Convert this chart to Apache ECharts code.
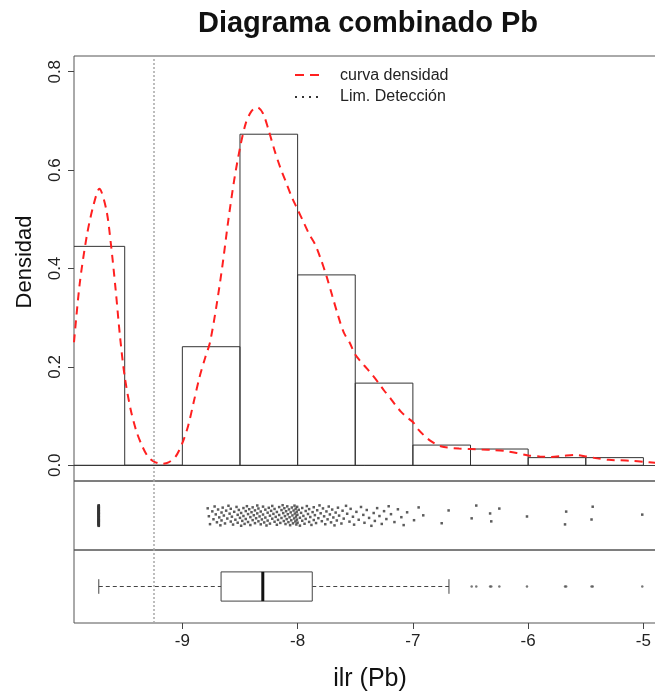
<!DOCTYPE html>
<html><head><meta charset="utf-8">
<script src="https://cdn.jsdelivr.net/npm/echarts@6/dist/echarts.min.js"></script>
<style>html,body{margin:0;padding:0;background:#fff}#c{width:655px;height:694px}</style>
</head><body><div id="c"></div>
<script>
// ---------- data ----------
const titleText = 'Diagrama combinado Pb';
const xName = 'ilr (Pb)';
const yName = 'Densidad';
const legendLabels = ['curva densidad', 'Lim. Detección'];
const xTicks = [-9, -8, -7, -6, -5];
const yTicks = [0, 0.2, 0.4, 0.6, 0.8];

// histogram (bin edges and densities)
const binEdges = [-10, -9.5, -9, -8.5, -8, -7.5, -7, -6.5, -6, -5.5, -5];
const binDensity = [0.445, 0, 0.241, 0.673, 0.387, 0.167, 0.041, 0.033, 0.0155, 0.0155];

// kernel density curve
const kdeX = [-9.94,-9.89,-9.83,-9.775,-9.72,-9.66,-9.62,-9.58,-9.54,-9.50,-9.45,-9.40,-9.35,-9.30,-9.25,-9.18,-9.12,-9.06,-9.00,-8.95,-8.90,-8.85,-8.80,-8.76,-8.70,-8.65,-8.60,-8.55,-8.50,-8.45,-8.40,-8.35,-8.30,-8.25,-8.20,-8.15,-8.10,-8.05,-8.00,-7.95,-7.90,-7.85,-7.80,-7.75,-7.70,-7.65,-7.60,-7.55,-7.50,-7.45,-7.40,-7.35,-7.30,-7.25,-7.20,-7.15,-7.10,-7.05,-7.00,-6.95,-6.90,-6.85,-6.80,-6.75,-6.70,-6.60,-6.50,-6.40,-6.30,-6.20,-6.10,-6.00,-5.90,-5.80,-5.70,-5.60,-5.50,-5.40,-5.30,-5.20,-5.10,-5.00,-4.90,-4.83];
const kdeY = [0.25,0.37,0.465,0.525,0.562,0.52,0.45,0.36,0.26,0.18,0.115,0.07,0.04,0.018,0.008,0.003,0.006,0.017,0.045,0.08,0.13,0.18,0.22,0.25,0.33,0.41,0.50,0.58,0.645,0.695,0.72,0.728,0.715,0.68,0.64,0.605,0.575,0.545,0.52,0.495,0.47,0.45,0.42,0.385,0.345,0.305,0.27,0.25,0.225,0.21,0.197,0.183,0.168,0.152,0.138,0.122,0.108,0.097,0.088,0.072,0.06,0.05,0.043,0.038,0.036,0.034,0.033,0.032,0.031,0.029,0.025,0.02,0.018,0.017,0.019,0.021,0.018,0.014,0.011,0.01,0.009,0.007,0.005,0.004];

// detection limit
const detectionLimit = -9.246;

// individual observations (strip chart)
const censoredValue = -9.725;
const censoredCount = 58;
const obsBin1 = [-8.78,-8.77,-8.76,-8.74,-8.73,-8.72,-8.71,-8.70,-8.69,-8.68,-8.67,-8.66,-8.66,-8.65,-8.64,-8.63,-8.62,-8.61,-8.60,-8.59,-8.58,-8.58,-8.57,-8.56,-8.55,-8.54,-8.53,-8.52,-8.52,-8.51,-8.50];
const obsBin2 = [-8.49,-8.49,-8.48,-8.47,-8.47,-8.46,-8.45,-8.45,-8.44,-8.43,-8.43,-8.42,-8.41,-8.41,-8.40,-8.39,-8.39,-8.38,-8.37,-8.37,-8.36,-8.35,-8.35,-8.34,-8.34,-8.33,-8.32,-8.32,-8.31,-8.30,-8.30,-8.29,-8.28,-8.28,-8.27,-8.26,-8.26,-8.25,-8.24,-8.24,-8.23,-8.22,-8.22,-8.21,-8.20,-8.20,-8.19,-8.18,-8.18,-8.17,-8.16,-8.16,-8.15,-8.14,-8.14,-8.13,-8.125,-8.12,-8.115,-8.11,-8.105,-8.10,-8.095,-8.09,-8.085,-8.08,-8.075,-8.07,-8.065,-8.06,-8.055,-8.05,-8.045,-8.04,-8.035,-8.03,-8.027,-8.024,-8.02,-8.017,-8.014,-8.011,-8.008,-8.006,-8.004,-8.002,-8.00];
const obsBin3 = [-7.99,-7.98,-7.98,-7.97,-7.96,-7.96,-7.95,-7.94,-7.93,-7.93,-7.92,-7.91,-7.90,-7.90,-7.89,-7.88,-7.87,-7.86,-7.86,-7.85,-7.84,-7.83,-7.82,-7.81,-7.80,-7.79,-7.78,-7.77,-7.76,-7.75,-7.74,-7.73,-7.72,-7.71,-7.70,-7.69,-7.68,-7.67,-7.66,-7.65,-7.64,-7.62,-7.61,-7.60,-7.58,-7.57,-7.55,-7.54,-7.52,-7.51];
const obsBin4 = [-7.49,-7.47,-7.45,-7.43,-7.42,-7.40,-7.38,-7.36,-7.34,-7.33,-7.31,-7.29,-7.27,-7.25,-7.23,-7.21,-7.19,-7.16,-7.13,-7.10,-7.08,-7.05];
const obsTail = [-6.99,-6.95,-6.91,-6.75,-6.69,-6.49,-6.45,-6.33,-6.32,-6.25,-6.01,-5.68,-5.67,-5.45,-5.44,-5.01];

// boxplot five-number summary and outliers
const boxStats = [-9.725, -8.664, -8.302, -7.873, -6.687];
const boxOutliers = [-6.49,-6.45,-6.33,-6.32,-6.25,-6.01,-5.68,-5.67,-5.45,-5.44,-5.01];

// ---------- chart ----------
const FONT = '"Liberation Sans", Arial, sans-serif';
const xMin = -9.94, xMax = -4.83;
const chart = echarts.init(document.getElementById('c'), null, {renderer: 'canvas'});

const histData = binDensity.map((d, i) => [binEdges[i], binEdges[i + 1], d]);
const kdeData = kdeX.map((x, i) => [x, kdeY[i]]);
const obsAll = [];
for (let i = 0; i < censoredCount; i++) obsAll.push(censoredValue);
obsAll.push(...obsBin1, ...obsBin2, ...obsBin3, ...obsBin4, ...obsTail);
// deterministic vertical jitter (visual spreading only)
const rugData = obsAll.map((v, i) => [v, 0.5 + 0.3 * (((i * 0.6180339887) % 1) - 0.5)]);
const outlierData = boxOutliers.map(v => [v, 0.5]);

const limitMark = {
  silent: true, symbol: ['none', 'none'], label: {show: false}, animation: false,
  lineStyle: {color: '#a8a8a8', type: [2, 2], width: 1.5},
  data: [{xAxis: detectionLimit}]
};

const grids = [
  {left: 74, width: 589, top: 56, height: 425},
  {left: 74, width: 589, top: 481, height: 69},
  {left: 74, width: 589, top: 550, height: 73}
].map(g => Object.assign({show: true, borderColor: '#555', borderWidth: 1, backgroundColor: 'transparent',
  containLabel: false, outerBoundsMode: 'none'}, g));

const hiddenX = (gi) => ({type: 'value', gridIndex: gi, min: xMin, max: xMax,
  axisLabel: {show: false}, axisTick: {show: false}, splitLine: {show: false}, axisLine: {show: false}});

option = {
  animation: false,
  backgroundColor: '#fff',
  grid: grids,
  xAxis: [
    {type: 'value', gridIndex: 0, min: xMin, max: xMax,
      axisLine: {show: true, onZero: true, lineStyle: {color: '#444', width: 1}},
      axisTick: {show: false}, axisLabel: {show: false}, splitLine: {show: false}},
    hiddenX(1),
    {type: 'value', gridIndex: 2, min: xMin, max: xMax, position: 'bottom',
      axisLine: {show: false},
      axisTick: {show: true, length: 6, customValues: xTicks, lineStyle: {color: '#444'}},
      axisLabel: {customValues: xTicks, fontSize: 17, color: '#222', fontFamily: FONT, margin: 10,
        formatter: v => String(v)},
      splitLine: {show: false}}
  ],
  yAxis: [
    {type: 'value', gridIndex: 0, min: -0.032, max: 0.832,
      axisLine: {show: false},
      axisTick: {show: true, length: 6, customValues: yTicks, lineStyle: {color: '#444'}},
      axisLabel: {customValues: yTicks, rotate: 90, fontSize: 17, color: '#222', fontFamily: FONT, margin: 10,
        formatter: v => v.toFixed(1)},
      splitLine: {show: false}},
    {type: 'value', gridIndex: 1, min: 0, max: 1, show: false},
    {type: 'value', gridIndex: 2, min: 0, max: 1, show: false}
  ],
  series: [
    {type: 'custom', xAxisIndex: 0, yAxisIndex: 0, clip: true, data: histData,
      encode: {x: [0, 1], y: 2},
      renderItem: (params, api) => {
        const p0 = api.coord([api.value(0), api.value(2)]);
        const p1 = api.coord([api.value(1), 0]);
        return {type: 'rect', shape: {x: p0[0], y: p0[1], width: p1[0] - p0[0], height: p1[1] - p0[1]},
          style: {fill: 'transparent', stroke: '#333', lineWidth: 1}};
      }},
    {type: 'line', xAxisIndex: 0, yAxisIndex: 0, data: kdeData, smooth: 0.3, showSymbol: false,
      clip: true, lineStyle: {color: '#ff2020', width: 2, type: [8, 6]}, markLine: limitMark, z: 3},
    {type: 'scatter', xAxisIndex: 1, yAxisIndex: 1, data: rugData, symbol: 'rect', symbolSize: 2.5,
      itemStyle: {color: '#333', opacity: 0.8}, markLine: limitMark},
    {type: 'custom', xAxisIndex: 2, yAxisIndex: 2, data: [boxStats], encode: {x: [0, 1, 2, 3, 4]},
      renderItem: (params, api) => {
        const lo = api.value(0), q1 = api.value(1), md = api.value(2), q3 = api.value(3), hi = api.value(4);
        const c = (x, y) => api.coord([x, y]);
        const ln = (a, b, st) => ({type: 'line', shape: {x1: a[0], y1: a[1], x2: b[0], y2: b[1]}, style: st});
        const dash = {stroke: '#444', lineWidth: 1, lineDash: [4, 3]};
        const solid = {stroke: '#444', lineWidth: 1};
        const bt = c(q1, 0.7), bb = c(q3, 0.3);
        return {type: 'group', children: [
          ln(c(lo, 0.5), c(q1, 0.5), dash),
          ln(c(q3, 0.5), c(hi, 0.5), dash),
          ln(c(lo, 0.4), c(lo, 0.6), solid),
          ln(c(hi, 0.4), c(hi, 0.6), solid),
          {type: 'rect', shape: {x: bt[0], y: bt[1], width: bb[0] - bt[0], height: bb[1] - bt[1]},
            style: {fill: '#fff', stroke: '#444', lineWidth: 1}},
          ln(c(md, 0.7), c(md, 0.3), {stroke: '#111', lineWidth: 3})
        ]};
      }, z: 3},
    {type: 'scatter', xAxisIndex: 2, yAxisIndex: 2, data: outlierData, symbol: 'circle', symbolSize: 2.5,
      itemStyle: {color: '#555'}, markLine: limitMark}
  ],
  graphic: [
    {type: 'text', x: 368, y: 24, style: {text: titleText, font: 'bold 29px ' + FONT, fill: '#111',
      textAlign: 'center', textVerticalAlign: 'middle'}},
    {type: 'text', x: 25, y: 262, rotation: Math.PI / 2, style: {text: yName, font: '22px ' + FONT, fill: '#111',
      textAlign: 'center', textVerticalAlign: 'middle'}},
    {type: 'text', x: 370, y: 679, style: {text: xName, font: '25px ' + FONT, fill: '#111',
      textAlign: 'center', textVerticalAlign: 'middle'}},
    {type: 'line', shape: {x1: 295, y1: 75, x2: 323, y2: 75}, style: {stroke: '#ff2020', lineWidth: 2, lineDash: [9, 6]}},
    {type: 'line', shape: {x1: 295, y1: 97, x2: 323, y2: 97}, style: {stroke: '#333', lineWidth: 2, lineDash: [2, 5]}},
    {type: 'text', x: 340, y: 76, style: {text: legendLabels[0], font: '16px ' + FONT, fill: '#222',
      textAlign: 'left', textVerticalAlign: 'middle'}},
    {type: 'text', x: 340, y: 97, style: {text: legendLabels[1], font: '16px ' + FONT, fill: '#222',
      textAlign: 'left', textVerticalAlign: 'middle'}}
  ]
};
chart.setOption(option);
</script>
</body></html>
